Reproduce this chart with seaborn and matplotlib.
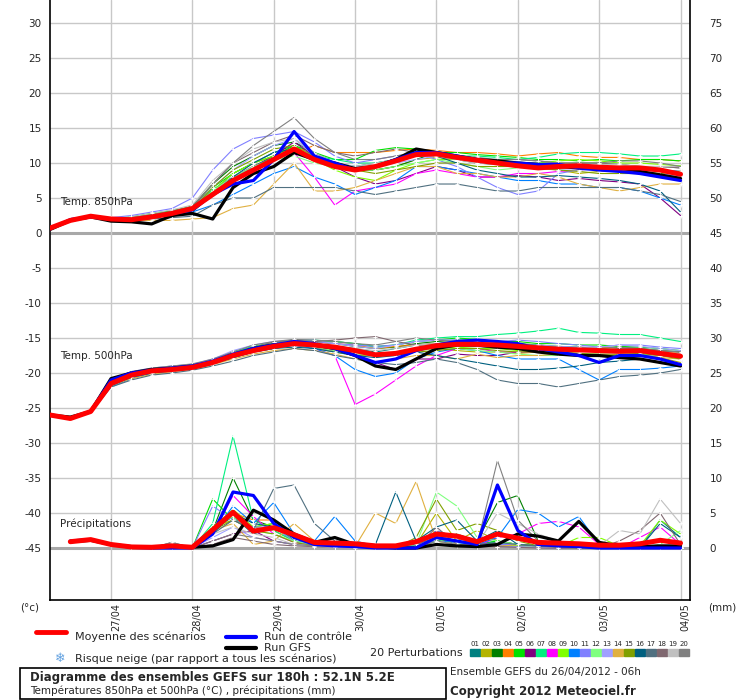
import numpy as np
import pandas as pd
import seaborn as sns
import matplotlib.pyplot as plt
from matplotlib.patches import Rectangle
from matplotlib.lines import Line2D

nan = np.nan
hours = list(range(0, 192, 6))
day_labels = ["27/04", "28/04", "29/04", "30/04", "01/05", "02/05", "03/05", "04/05"]
day_hours = [18, 42, 66, 90, 114, 138, 162, 186]

pert_colors = ["#008080", "#b4b400", "#008000", "#ff8000", "#00e000", "#800080", "#00f080",
               "#ff00ff", "#80ff00", "#0080ff", "#8080ff", "#80ff80", "#a0a0ff", "#e0b040",
               "#80a000", "#006080", "#507080", "#806870", "#c0c0c0", "#808080"]

# Temp. 850hPa
mean850 = [0.7,1.8,2.4,2.0,1.9,2.3,2.8,3.5,5.5,7.5,9.0,10.5,12.0,10.5,9.5,9.0,9.5,10.3,11.2,11.3,10.8,10.4,10.0,9.6,9.3,9.5,9.6,9.4,9.3,9.3,9.0,8.4]
ctrl850 = [0.6,1.9,2.3,2.0,1.9,2.3,2.8,3.3,5.5,7.0,7.5,10.5,14.5,11.0,10.0,9.0,9.5,10.5,11.5,11.5,11.0,10.5,10.0,10.0,9.8,9.8,9.3,9.0,8.8,8.5,8.0,7.5]
gfs850 = [0.5,1.8,2.3,1.7,1.6,1.3,2.5,2.8,2.0,6.5,8.5,9.5,11.5,10.5,10.0,9.2,9.5,10.5,12.0,11.5,11.0,10.5,10.3,10.0,9.8,9.5,9.3,9.2,9.3,8.8,8.3,7.8]
pert850 = [
    [0.5,1.9,2.3,2.0,2.1,2.5,2.9,3.5,6.0,8.5,10.0,11.5,12.5,11.0,10.0,9.5,10.0,10.5,11.0,11.0,10.5,10.0,9.8,9.5,9.3,9.5,9.6,9.4,9.2,9.0,8.8,8.5],
    [0.4,1.8,2.2,2.0,2.2,2.6,3.2,3.5,5.5,7.5,9.5,11.0,12.5,11.0,9.5,9.0,9.0,9.5,10.5,10.8,10.5,10.0,9.8,9.5,9.2,9.0,8.5,8.8,9.0,8.8,8.5,8.0],
    [0.5,2.0,2.4,2.1,2.0,2.4,3.0,3.8,7.0,9.5,11.0,12.5,13.0,11.5,10.0,9.0,9.0,9.5,10.5,11.5,11.0,10.5,10.5,10.0,9.8,9.5,9.5,9.5,9.2,9.0,9.0,8.8],
    [0.5,2.0,2.3,2.0,2.1,2.5,3.0,3.6,6.0,8.0,9.5,10.5,11.5,12.5,11.5,11.5,11.5,11.8,12.0,11.8,11.5,11.5,11.3,11.0,11.3,11.5,11.0,10.8,10.8,10.5,10.5,10.3],
    [0.5,2.0,2.3,2.1,2.3,2.8,3.2,3.8,6.5,8.5,10.0,11.0,12.5,11.5,10.5,10.5,11.8,12.2,12.0,11.5,11.5,11.2,11.0,10.8,10.5,10.5,10.3,10.5,10.3,10.5,10.5,10.3],
    [0.5,1.9,2.2,2.0,2.0,2.4,2.8,3.2,6.0,8.0,9.5,11.0,13.0,11.0,9.5,8.0,7.0,7.5,8.5,9.5,9.0,8.0,8.0,8.2,8.0,7.5,7.8,7.5,7.3,7.0,5.0,2.5],
    [0.6,2.0,2.3,2.1,2.2,2.6,3.0,3.6,6.2,8.0,9.5,10.8,12.0,11.0,10.5,10.0,10.0,10.5,11.0,11.3,11.0,11.0,10.8,10.5,10.8,11.3,11.5,11.5,11.3,11.0,11.0,11.3],
    [0.5,2.0,2.3,2.0,2.1,2.5,3.0,3.5,6.0,8.0,9.5,10.5,11.5,8.0,4.0,6.0,6.5,7.0,8.5,9.0,8.5,8.0,8.0,8.5,8.5,8.8,9.0,9.2,9.3,9.5,9.5,9.3],
    [0.5,2.0,2.3,2.0,2.2,2.6,3.0,3.5,6.0,8.5,10.0,11.0,12.0,10.5,9.0,8.0,7.5,9.0,10.0,10.5,10.5,10.5,10.2,10.0,10.0,10.3,10.5,10.3,10.0,10.0,9.8,9.6],
    [0.5,1.8,2.2,2.0,2.0,2.2,2.6,3.0,4.0,5.5,7.0,8.5,9.5,8.0,7.0,5.5,6.5,7.5,9.5,9.5,9.0,8.5,8.0,7.5,7.5,7.0,7.0,6.5,6.5,6.0,5.0,4.0],
    [0.6,2.1,2.4,2.2,2.5,3.0,3.5,5.0,9.0,12.0,13.5,14.0,14.5,13.0,11.0,10.0,10.5,11.0,11.5,10.5,9.5,8.0,6.5,5.5,6.0,8.5,9.0,9.5,9.5,9.0,9.0,8.8],
    [0.5,2.0,2.3,2.0,2.1,2.5,2.9,3.4,6.0,8.0,9.5,10.5,11.0,10.0,9.5,9.0,9.0,9.5,10.0,10.5,10.0,9.5,9.0,9.3,9.5,9.8,10.0,10.0,9.8,9.5,9.5,9.3],
    [0.5,2.0,2.3,2.0,2.1,2.5,2.9,3.5,6.5,9.0,11.0,12.5,13.5,11.0,10.0,9.5,9.5,10.0,10.5,11.0,10.5,10.0,9.8,9.5,9.5,9.0,9.0,9.0,8.8,8.5,8.5,8.0],
    [0.4,1.8,2.2,2.0,1.8,1.8,1.8,2.0,2.2,3.5,4.0,7.0,10.0,6.0,6.0,6.5,7.5,8.5,9.5,9.5,8.5,8.5,8.0,8.0,8.5,8.0,7.0,6.5,6.0,6.5,7.0,7.0],
    [0.5,1.9,2.3,2.0,2.0,2.4,2.9,3.4,6.5,9.0,10.5,12.0,12.5,10.5,9.5,9.0,8.5,9.0,9.5,10.0,10.0,9.5,9.5,9.5,9.3,9.0,8.8,8.5,8.5,8.5,8.5,8.8],
    [0.5,1.9,2.2,2.0,2.0,2.3,2.7,3.0,5.5,8.0,10.0,11.5,12.0,10.5,9.5,9.0,9.5,10.5,11.5,11.0,10.0,9.0,8.5,8.0,8.0,8.2,8.0,7.8,7.5,7.0,6.0,3.0],
    [0.5,1.8,2.2,2.0,1.8,2.0,2.2,2.4,4.0,5.0,5.0,6.5,6.5,6.5,6.5,6.0,5.5,6.0,6.5,7.0,7.0,6.5,6.0,6.0,6.5,6.5,6.5,6.5,6.5,6.0,5.5,4.5],
    [0.5,2.0,2.3,2.0,2.2,2.6,3.0,3.6,7.0,10.0,11.5,13.0,14.0,12.5,11.5,11.0,11.5,12.0,11.5,11.0,10.8,10.5,10.5,10.5,10.3,10.0,10.0,10.0,9.8,9.5,9.5,9.3],
    [0.5,2.0,2.3,2.0,2.3,2.8,3.3,4.0,7.5,10.0,12.0,13.0,13.5,11.5,10.0,9.5,10.0,10.5,11.0,11.0,10.5,10.0,10.0,10.0,9.8,9.5,9.5,9.8,9.8,9.5,9.5,9.5],
    [0.5,2.0,2.3,2.0,2.2,2.6,3.1,3.8,7.0,10.0,12.5,14.5,16.5,13.5,11.5,10.5,10.5,11.0,11.5,11.5,11.0,10.8,10.5,10.5,10.3,10.0,10.0,10.0,10.3,10.3,10.0,9.5],
]

# Temp. 500hPa
mean500 = [-26.0,-26.5,-25.5,-21.5,-20.3,-19.7,-19.5,-19.2,-18.5,-17.5,-16.8,-16.2,-15.8,-16.0,-16.3,-16.8,-17.4,-17.2,-16.6,-16.1,-15.9,-15.9,-16.0,-16.2,-16.4,-16.6,-16.7,-16.8,-16.9,-16.8,-17.2,-17.6]
ctrl500 = [-26.0,-26.5,-25.5,-21.0,-20.0,-19.6,-19.3,-19.0,-18.3,-17.3,-16.5,-16.0,-15.5,-15.8,-16.5,-17.5,-18.5,-18.0,-16.8,-16.0,-15.5,-15.3,-15.5,-15.8,-16.5,-17.0,-17.5,-18.5,-17.5,-17.5,-18.0,-18.8]
gfs500 = [-26.0,-26.3,-25.5,-20.8,-20.0,-19.5,-19.3,-19.0,-18.5,-17.5,-16.5,-16.0,-15.8,-16.0,-16.5,-17.5,-19.0,-19.5,-18.0,-16.5,-16.0,-16.0,-16.3,-16.5,-17.0,-17.3,-17.5,-17.5,-17.8,-18.0,-18.5,-19.0]
pert500 = [
    [-26.0,-26.4,-25.6,-21.3,-20.2,-19.6,-19.4,-19.0,-18.3,-17.0,-16.3,-15.8,-15.5,-15.8,-16.2,-16.5,-17.0,-16.5,-16.0,-15.8,-15.5,-15.8,-16.0,-16.0,-16.3,-16.5,-16.5,-16.8,-17.0,-17.0,-17.2,-17.5],
    [-26.0,-26.5,-25.4,-21.5,-20.5,-19.8,-19.5,-19.2,-18.5,-17.5,-17.0,-16.5,-16.0,-16.5,-17.0,-17.5,-17.5,-17.0,-16.5,-16.5,-16.8,-17.0,-17.0,-17.2,-17.0,-17.0,-17.2,-17.5,-17.5,-17.3,-17.8,-18.5],
    [-26.0,-26.6,-25.5,-21.5,-20.3,-19.8,-19.5,-19.3,-18.5,-17.3,-16.5,-15.8,-15.5,-15.5,-15.8,-16.2,-16.5,-16.3,-15.8,-15.5,-15.3,-15.3,-15.5,-15.8,-16.0,-16.2,-16.3,-16.5,-16.3,-16.5,-16.8,-17.0],
    [-26.0,-26.5,-25.5,-21.8,-20.5,-20.0,-19.6,-19.3,-18.5,-17.5,-16.8,-16.0,-15.5,-15.5,-15.8,-16.0,-16.5,-16.2,-16.0,-15.8,-15.8,-16.0,-16.2,-16.3,-16.5,-16.5,-16.5,-16.3,-16.5,-16.8,-17.0,-17.2],
    [-26.0,-26.4,-25.5,-21.5,-20.3,-19.7,-19.5,-19.1,-18.3,-17.0,-16.3,-15.6,-15.3,-15.5,-15.5,-15.8,-16.2,-16.0,-15.5,-15.3,-15.0,-15.2,-15.5,-15.5,-15.8,-15.8,-16.0,-16.0,-16.2,-16.3,-16.5,-16.8],
    [-26.0,-26.5,-25.6,-21.8,-20.6,-20.0,-19.7,-19.4,-18.7,-17.8,-17.0,-16.3,-16.0,-16.3,-16.8,-17.5,-18.5,-19.5,-18.0,-18.0,-17.3,-17.5,-17.5,-17.0,-16.8,-16.5,-16.8,-17.0,-17.0,-16.8,-17.0,-17.5],
    [-26.0,-26.3,-25.4,-21.3,-20.2,-19.6,-19.3,-19.0,-18.2,-17.0,-16.2,-15.6,-15.3,-15.3,-15.5,-15.8,-16.3,-16.0,-15.3,-15.0,-14.8,-14.8,-14.5,-14.3,-14.0,-13.6,-14.2,-14.3,-14.5,-14.5,-15.0,-15.5],
    [-26.0,-26.5,-25.5,-21.5,-20.4,-19.8,-19.6,-19.3,-18.5,-17.5,-16.8,-16.3,-16.0,-16.5,-17.5,-24.5,-23.0,-21.0,-19.0,-17.5,-16.5,-16.5,-17.0,-17.0,-17.0,-17.0,-17.3,-17.5,-17.5,-17.3,-17.5,-17.8],
    [-26.0,-26.5,-25.5,-21.5,-20.3,-19.8,-19.5,-19.2,-18.5,-17.3,-16.5,-16.0,-15.8,-16.0,-16.5,-17.0,-17.5,-17.3,-16.8,-16.5,-16.3,-16.5,-16.5,-16.8,-17.0,-16.8,-16.5,-16.5,-16.8,-17.0,-17.3,-17.5],
    [-26.0,-26.5,-25.6,-22.0,-20.8,-20.0,-19.7,-19.4,-18.7,-17.8,-17.0,-16.5,-16.0,-16.5,-17.5,-19.5,-20.5,-20.0,-18.0,-17.0,-16.5,-16.8,-17.5,-18.0,-18.0,-18.0,-19.5,-21.0,-19.5,-19.5,-19.3,-19.0],
    [-26.0,-26.4,-25.4,-21.0,-19.8,-19.3,-19.0,-18.8,-18.2,-17.2,-16.5,-15.8,-15.5,-15.5,-15.8,-16.0,-16.2,-16.0,-15.5,-15.3,-15.3,-15.5,-15.5,-15.3,-15.5,-15.8,-16.0,-16.3,-16.0,-16.0,-16.3,-16.5],
    [-26.0,-26.5,-25.5,-21.5,-20.4,-19.8,-19.5,-19.2,-18.5,-17.5,-16.8,-16.2,-16.0,-16.3,-16.8,-17.3,-17.5,-17.0,-16.8,-16.5,-16.5,-16.8,-17.0,-17.3,-17.5,-17.5,-17.3,-17.5,-17.5,-17.3,-17.5,-17.8],
    [-26.0,-26.4,-25.4,-21.5,-20.3,-19.5,-19.2,-18.8,-18.0,-16.8,-16.0,-15.5,-15.3,-15.3,-15.8,-16.2,-16.5,-16.0,-15.5,-15.3,-15.3,-15.5,-15.8,-16.0,-16.0,-16.2,-16.3,-16.3,-16.0,-16.2,-16.5,-16.8],
    [-26.0,-26.5,-25.6,-21.8,-20.8,-20.2,-19.8,-19.5,-18.8,-18.0,-17.3,-16.8,-16.5,-16.8,-17.3,-18.0,-18.5,-18.0,-17.5,-17.5,-18.0,-17.3,-17.8,-17.5,-17.5,-17.3,-17.5,-17.5,-17.3,-17.5,-17.8,-18.0],
    [-26.0,-26.5,-25.5,-21.5,-20.4,-19.8,-19.5,-19.3,-18.5,-17.5,-16.8,-16.2,-16.0,-16.2,-16.5,-17.0,-17.5,-17.3,-17.0,-16.8,-16.5,-16.5,-16.8,-17.0,-17.0,-17.0,-17.2,-17.3,-17.3,-17.2,-17.5,-18.0],
    [-26.0,-26.5,-25.6,-21.8,-20.6,-20.0,-19.7,-19.4,-18.7,-17.8,-17.0,-16.5,-16.3,-16.5,-17.0,-17.5,-17.8,-17.5,-17.0,-17.5,-18.0,-18.5,-19.0,-19.5,-19.5,-19.3,-19.0,-18.5,-18.3,-18.0,-18.5,-18.8],
    [-26.0,-26.5,-25.7,-22.0,-21.0,-20.3,-20.0,-19.6,-19.0,-18.3,-17.5,-17.0,-16.5,-16.8,-17.5,-18.0,-18.5,-18.8,-18.5,-18.0,-18.5,-19.5,-21.0,-21.5,-21.5,-22.0,-21.5,-21.0,-20.5,-20.3,-20.0,-19.5],
    [-26.0,-26.4,-25.4,-21.3,-20.2,-19.6,-19.3,-19.0,-18.3,-17.2,-16.3,-15.6,-15.3,-15.5,-15.3,-15.0,-14.8,-15.5,-16.0,-16.0,-16.0,-16.2,-16.5,-16.5,-16.5,-16.5,-16.8,-16.8,-16.5,-16.5,-16.8,-17.0],
    [-26.0,-26.5,-25.5,-21.5,-20.3,-19.7,-19.4,-19.1,-18.4,-17.3,-16.5,-16.0,-15.8,-16.0,-16.3,-16.5,-16.8,-16.5,-16.0,-15.8,-15.8,-16.0,-16.0,-16.3,-16.5,-16.5,-16.5,-16.8,-16.8,-16.8,-17.0,-17.3],
    [-26.0,-26.4,-25.4,-21.0,-19.8,-19.3,-19.0,-18.7,-18.0,-17.0,-16.0,-15.5,-15.2,-15.3,-15.5,-15.8,-16.0,-15.5,-15.0,-15.3,-15.5,-15.8,-16.0,-16.0,-16.2,-16.3,-16.5,-16.5,-16.3,-16.5,-16.8,-17.0],
]

# Précipitations (mm)
meanP = [nan,0.9,1.2,0.5,0.15,0.1,0.3,0.1,2.6,5.1,2.4,2.9,1.9,0.8,0.7,0.6,0.3,0.3,0.9,2.0,1.7,0.9,2.0,1.4,0.8,0.7,0.6,0.4,0.4,0.6,1.1,0.7]
ctrlP = [nan,1.0,1.2,0.5,0.1,0.0,0.0,0.0,2.0,8.0,7.5,3.5,1.5,0.5,0.3,0.2,0.0,0.0,0.0,1.5,1.0,0.5,9.0,2.5,0.5,0.3,0.2,0.0,0.0,0.0,0.0,0.0]
gfsP = [nan,0.9,1.1,0.5,0.2,0.1,0.1,0.1,0.3,1.2,5.4,4.0,2.0,0.8,1.5,0.5,0.2,0.0,0.0,0.5,0.3,0.2,0.5,2.0,1.7,1.0,3.8,0.8,0.3,0.2,0.3,0.3]
pertP = [
    [nan,1.0,1.2,0.5,0.1,0.0,0.1,0.0,2.5,4.5,2.0,3.0,1.0,0.5,0.3,0.2,0.1,0.0,0.0,2.5,1.5,0.5,1.0,0.5,0.3,0.2,0.2,0.0,0.0,0.0,4.0,1.5],
    [nan,1.0,1.2,0.5,0.1,0.0,0.1,0.0,3.0,4.0,3.0,2.5,1.0,0.5,0.2,0.1,0.0,0.0,0.5,5.0,1.0,2.5,1.0,0.5,0.3,0.1,0.0,0.0,0.0,0.0,0.3,0.2],
    [nan,1.0,1.2,0.5,0.1,0.0,0.1,0.0,2.5,10.0,4.0,3.0,1.5,0.3,0.2,0.3,0.1,0.0,0.0,1.0,2.0,1.0,6.5,7.5,1.0,0.5,0.3,0.2,0.0,0.0,0.2,0.1],
    [nan,1.0,1.2,0.5,0.1,0.0,0.1,0.0,3.0,5.0,4.0,4.0,1.5,0.5,0.3,0.2,0.1,0.0,0.3,1.5,0.5,0.3,0.2,0.5,0.3,0.1,0.0,0.0,0.0,0.0,0.0,0.0],
    [nan,1.0,1.3,0.5,0.1,0.0,0.1,0.0,7.0,4.0,3.0,3.5,1.0,0.5,0.2,0.1,0.0,0.0,0.2,1.0,1.0,0.5,1.0,0.5,0.2,0.1,0.0,0.0,0.0,0.0,0.0,0.0],
    [nan,1.0,1.2,0.5,0.1,0.0,0.1,0.0,1.0,2.0,2.5,1.0,0.5,0.3,0.2,0.1,0.0,0.0,0.0,0.5,0.3,0.2,0.3,0.2,0.1,0.0,0.0,0.0,0.0,0.0,0.0,0.0],
    [nan,1.0,1.2,0.5,0.1,0.0,0.1,0.0,3.5,16.0,4.0,2.5,1.0,0.5,0.3,0.2,0.1,0.0,0.0,1.5,0.8,0.5,0.8,0.5,0.3,0.2,0.1,0.0,0.0,0.0,0.0,0.0],
    [nan,1.0,1.2,0.5,0.1,0.0,0.1,0.0,2.0,7.5,4.5,2.0,0.8,0.3,0.2,0.1,0.0,0.0,0.0,0.5,0.5,0.3,1.5,2.0,3.5,3.8,3.0,0.5,0.0,1.5,3.0,0.5],
    [nan,1.0,1.2,0.5,0.1,0.0,0.1,0.0,3.0,5.5,3.0,3.5,1.5,0.5,0.3,0.0,0.0,0.0,0.3,1.0,0.5,0.3,0.5,0.3,0.2,0.2,1.5,1.5,0.3,0.3,4.0,2.0],
    [nan,1.0,1.2,0.5,0.1,0.0,0.1,0.0,2.0,6.0,3.5,6.5,2.0,1.0,4.5,1.0,0.3,0.2,0.3,1.0,0.8,0.5,1.5,5.5,5.0,3.0,4.5,0.5,0.2,0.1,0.1,0.0],
    [nan,1.0,1.2,0.5,0.1,0.0,0.1,0.0,6.0,4.0,3.0,3.0,1.0,0.5,0.3,0.2,0.1,0.0,0.0,2.5,1.5,0.5,0.5,0.5,0.2,0.1,0.0,0.0,0.0,0.0,0.0,0.0],
    [nan,1.0,1.2,0.5,0.1,0.0,0.1,0.0,3.0,4.5,2.5,2.0,1.0,0.5,0.2,0.1,0.0,0.0,0.5,8.0,6.0,1.5,1.0,0.5,0.3,0.1,0.0,0.0,0.0,0.0,0.5,2.5],
    [nan,1.0,1.2,0.5,0.1,0.0,0.1,0.0,1.5,3.0,1.5,1.0,0.5,0.3,0.1,0.0,0.0,0.0,0.0,2.0,1.0,0.5,0.3,0.2,0.1,0.0,0.0,0.0,0.0,0.0,0.0,0.0],
    [nan,1.0,1.2,0.5,0.1,0.0,0.1,0.0,2.5,3.5,0.5,1.0,3.5,1.0,0.5,0.2,5.0,3.5,9.5,1.0,0.5,0.3,0.2,0.5,0.3,0.2,0.1,0.0,0.0,0.0,0.0,0.0],
    [nan,1.0,1.2,0.5,0.1,0.0,0.1,0.0,2.5,4.0,2.5,2.0,0.8,0.3,0.2,0.1,0.0,0.0,1.5,7.0,2.5,3.5,2.5,1.0,0.3,0.1,0.0,0.0,0.0,0.0,0.0,0.0],
    [nan,1.0,1.2,0.5,0.1,0.0,0.1,0.0,2.0,5.0,3.5,3.0,1.5,0.5,0.3,0.3,0.5,8.0,1.0,3.0,4.0,1.0,2.5,0.5,0.3,0.2,0.1,0.0,0.0,0.0,3.5,1.5],
    [nan,1.0,1.2,0.5,0.1,0.0,0.8,0.0,2.0,4.0,2.5,8.5,9.0,3.5,1.0,0.8,0.5,0.3,0.5,1.5,1.0,0.5,0.8,0.5,0.3,0.2,0.2,0.0,0.0,0.0,0.2,0.3],
    [nan,1.0,1.2,0.5,0.1,0.0,0.5,0.0,0.5,1.5,1.0,0.5,0.3,0.2,0.1,0.0,0.0,0.0,0.0,3.0,0.5,0.2,0.2,0.1,0.0,0.0,0.0,0.0,1.0,2.5,5.0,0.5],
    [nan,1.0,1.2,0.5,0.1,0.0,0.1,0.0,2.0,3.0,2.0,1.5,0.5,0.3,0.1,0.0,0.0,0.0,0.0,1.0,0.5,0.5,5.0,3.5,2.0,1.0,0.5,0.3,2.5,2.0,7.0,3.5],
    [nan,1.0,1.2,0.5,0.1,0.0,0.8,0.0,1.0,2.0,1.5,1.0,0.5,0.3,0.2,0.1,0.0,0.0,0.0,1.0,0.5,0.5,12.5,4.0,1.0,0.5,0.3,0.1,0.0,0.0,0.0,0.0],
]

P_OFFSET = 45  # precip 0 mm drawn at -45 on the temperature scale

sns.set_theme(style="white")
plt.rcParams['font.family'] = ['DejaVu Sans']
fig = plt.figure(figsize=(7.4, 7.0), dpi=100)
fig.patch.set_facecolor("white")
ax = fig.add_axes([50/740, 100/700, 640/740, 600/700])
ax.set_xlim(0, 188.8)
ax.set_ylim(-52.43, 33.29)

# grid
for y in range(-45, 31, 5):
    thick = y in (0, -45)
    ax.axhline(y, color="#a8a8a8" if thick else "#c8c8c8", lw=2.2 if thick else 1.0, zorder=0)
for h in day_hours:
    ax.axvline(h, color="#c8c8c8", lw=1.0, zorder=0)

h = np.array(hours)

def draw(vals, color, lw, offset=0.0, marker="+", z=2):
    v = np.array(vals, dtype=float) + offset
    sns.lineplot(x=h, y=v, color=color, lw=lw, marker=marker, ms=3, mew=0.6,
                 ax=ax, zorder=z, legend=False, estimator=None)

for i, c in enumerate(pert_colors):
    draw(pert850[i], c, 0.8)
    draw(pert500[i], c, 0.8)
    draw(pertP[i], c, 0.8, offset=-P_OFFSET)
for vals, off in ((gfs850, 0), (gfs500, 0), (gfsP, -P_OFFSET)):
    draw(vals, "black", 2.3, off, marker=None, z=3)
for vals, off in ((ctrl850, 0), (ctrl500, 0), (ctrlP, -P_OFFSET)):
    draw(vals, "#0000ff", 2.3, off, marker=None, z=4)
for vals, off in ((mean850, 0), (mean500, 0), (meanP, -P_OFFSET)):
    draw(vals, "#ff0000", 3.6, off, marker=None, z=5)

ax.text(3, 4.0, "Temp. 850hPa", fontsize=7.5, zorder=6)
ax.text(3, -18.0, "Temp. 500hPa", fontsize=7.5, zorder=6)
ax.text(3, -42.0, "Précipitations", fontsize=7.5, zorder=6)

left_ticks = list(range(-45, 31, 5))
ax.set_yticks(left_ticks)
ax.set_yticklabels([str(t) for t in left_ticks], fontsize=7.5)
ax.set_xticks(day_hours)
ax.set_xticklabels(day_labels, rotation=90, fontsize=7, va="top", ha="left")
ax.tick_params(axis="x", length=0, pad=2)
ax.tick_params(axis="y", length=0, pad=6)
ax.set_xlabel("")
ax.set_ylabel("")
for s in ("left", "right", "bottom"):
    ax.spines[s].set_color("black")
    ax.spines[s].set_linewidth(1.2)
ax.spines["top"].set_visible(False)

ax2 = ax.twinx()
ax2.set_ylim(-52.43 + P_OFFSET, 33.29 + P_OFFSET)
right_ticks = list(range(0, 76, 5))
ax2.set_yticks(right_ticks)
ax2.set_yticklabels([str(t) for t in right_ticks], fontsize=7.5)
ax2.tick_params(axis="y", length=0, pad=14)
ax2.grid(False)
for s in ax2.spines.values():
    s.set_visible(False)

def ft(x, y, s, **kw):
    fig.text(x/740, 1 - y/700, s, va="center", **kw)

ft(20, 607, "(°c)", fontsize=7.5)
ft(708, 607, "(mm)", fontsize=7.5)

fig.add_artist(Line2D([36/740, 66/740], [1-632/700]*2, color="#ff0000", lw=3.5))
ft(75, 637, "Moyenne des scénarios", fontsize=8)
fig.add_artist(Line2D([226/740, 256/740], [1-637/700]*2, color="#0000ff", lw=3))
ft(264, 637, "Run de contrôle", fontsize=8)
fig.add_artist(Line2D([226/740, 256/740], [1-648/700]*2, color="black", lw=3))
ft(264, 648, "Run GFS", fontsize=8)
ft(55, 659, "❄", fontsize=9, color="#60a0e0")
ft(75, 659, "Risque neige (par rapport a tous les scénarios)", fontsize=8)
ft(370, 653, "20 Perturbations", fontsize=8)
for i, c in enumerate(pert_colors):
    x0 = 470 + i * 11.0
    fig.add_artist(Rectangle((x0/740, 1-656/700), 10/740, 7/700, color=c, transform=fig.transFigure))
    fig.text((x0 + 5)/740, 1-644/700, f"{i+1:02d}", fontsize=5, ha="center", va="center")

fig.add_artist(Rectangle((20/740, 1-699/700), 426/740, 31/700, fill=False, ec="black", lw=1.2,
                         transform=fig.transFigure))
ft(30, 677, "Diagramme des ensembles GEFS sur 180h : 52.1N 5.2E", fontsize=8.5, weight="bold")
ft(30, 691, "Températures 850hPa et 500hPa (°C) , précipitations (mm)", fontsize=7.5)
ft(450, 672, "Ensemble GEFS du 26/04/2012 - 06h", fontsize=7.5)
ft(450, 692, "Copyright 2012 Meteociel.fr", fontsize=8.5, weight="bold")

fig.savefig("out.png", dpi=100, facecolor="white")
